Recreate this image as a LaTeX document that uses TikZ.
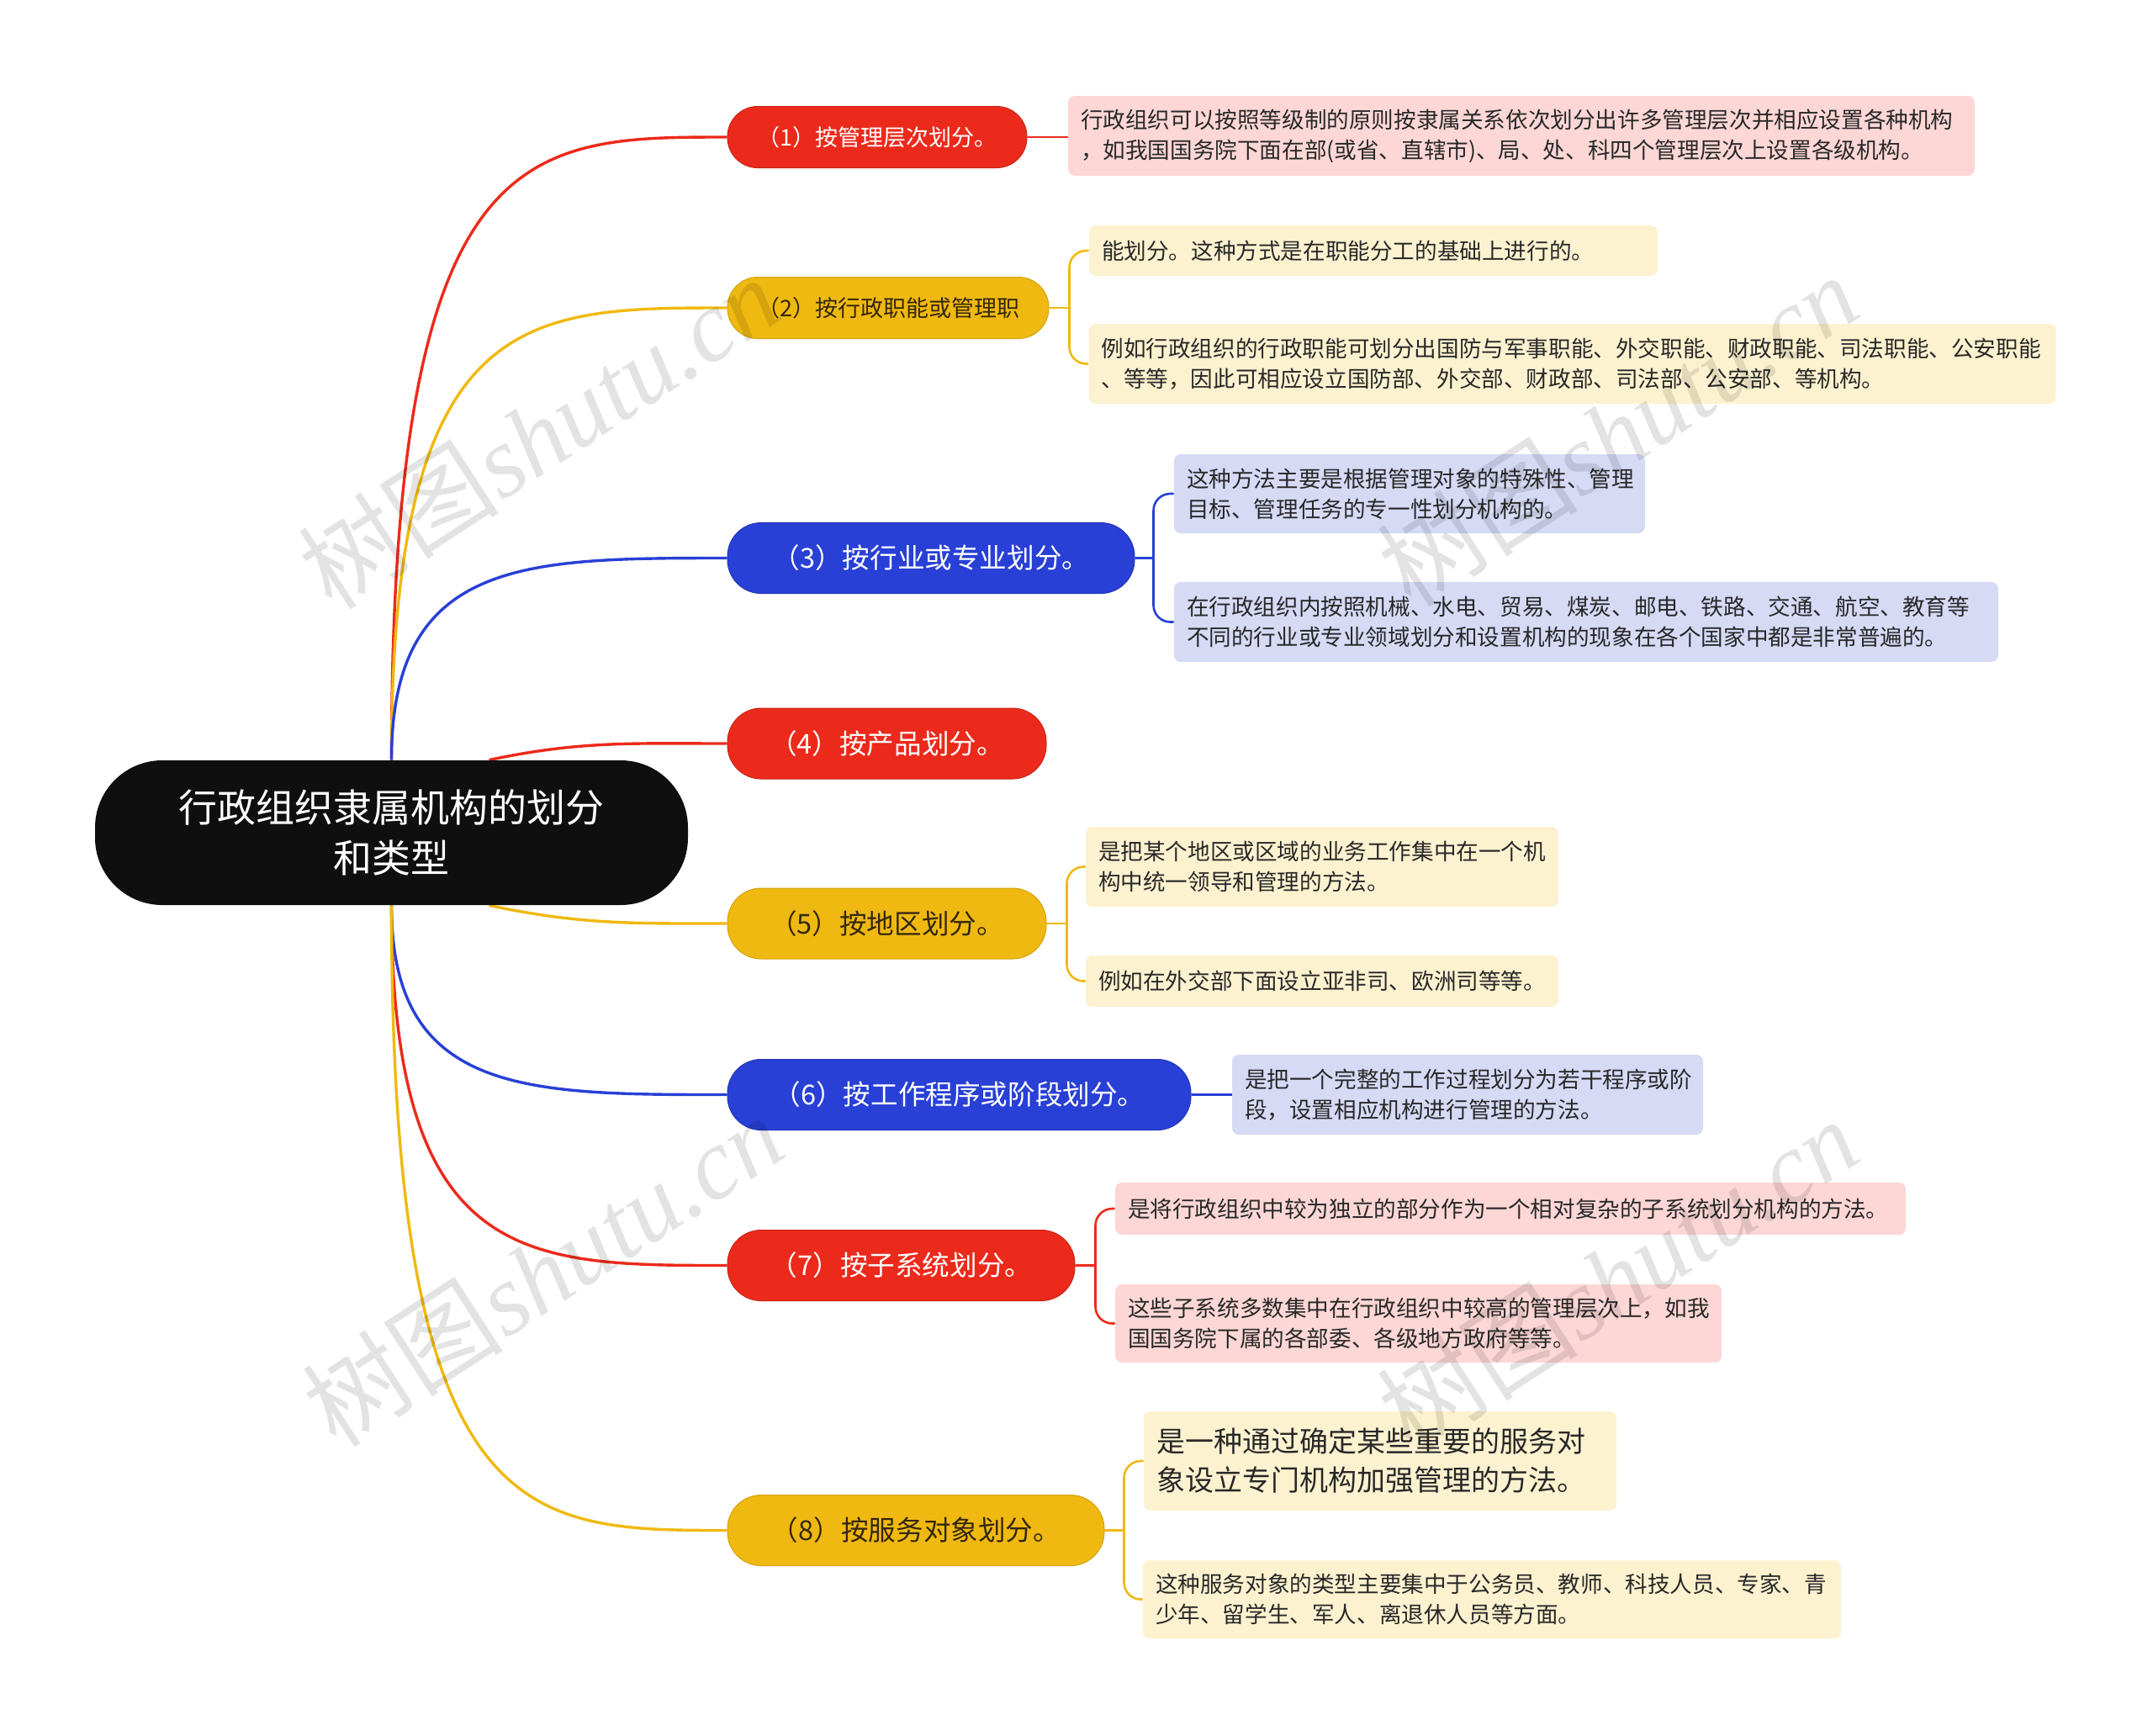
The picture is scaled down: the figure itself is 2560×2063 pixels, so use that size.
\documentclass[tikz,border=0pt]{standalone}
\usepackage{fontspec}
\setmainfont{Noto Sans CJK SC}
\newfontfamily\wmlatin{Liberation Serif}
\usetikzlibrary{calc}
\pgfdeclarelayer{paper}
\pgfdeclarelayer{bg}
\pgfsetlayers{paper,bg,main}
\definecolor{cred}{RGB}{236,42,27}
\definecolor{cyel}{RGB}{240,185,17}
\definecolor{cblue}{RGB}{40,64,214}
\definecolor{fpink}{RGB}{252,215,214}
\definecolor{fcream}{RGB}{253,242,208}
\definecolor{flav}{RGB}{214,218,245}
\definecolor{rootc}{RGB}{15,15,15}
\definecolor{ytext}{RGB}{52,40,12}
\definecolor{ltext}{RGB}{40,40,40}
\tikzset{
  rootnode/.style={fill=rootc, text=white, rounded corners=40pt, minimum width=352.5pt,
    minimum height=86pt, align=center, inner sep=0pt, font=\fontsize{23}{30}\selectfont},
  topic/.style={rounded corners=18pt, minimum height=36.5pt, inner sep=0pt, align=center,
    font=\fontsize{13.5}{16}\selectfont},
  topicbig/.style={topic, rounded corners=20pt, minimum height=42pt, font=\fontsize{16.3}{19}\selectfont},
  redt/.style={fill=cred, draw=cred!85!black, line width=0.5pt, text=white},
  yelt/.style={fill=cyel, draw=cyel!88!black, line width=0.5pt, text=ytext},
  bluet/.style={fill=cblue, draw=cblue!85!black, line width=0.5pt, text=white},
  leaf/.style={rounded corners=4pt, align=left, inner xsep=7.5pt, inner ysep=0pt, text=ltext,
    font=\fontsize{13.3}{18}\selectfont},
  pinkleaf/.style={leaf, fill=fpink},
  creamleaf/.style={leaf, fill=fcream},
  lavleaf/.style={leaf, fill=flav},
  link/.style={line width=1.7pt},
  sublink/.style={line width=1.3pt, rounded corners=10pt},
  wmtext/.style={rotate=33, text=black, text opacity=0.11, font=\fontsize{60}{60}\selectfont}
}
\begin{document}
\begin{tikzpicture}[x=0.5pt,y=-0.5pt]
\begin{pgfonlayer}{paper}
\fill[white] (0,0) rectangle (2560,2063);
\end{pgfonlayer}
\useasboundingbox (0,0) rectangle (2560,2063);

% root
\node[rootnode] (root) at (465.5,990) {行政组织隶属机构的划分\\和类型};

% level 1
\node[topic, redt, minimum width=178pt] (n1) at (1043,163) {（1）按管理层次划分。};
\node[topic, yelt, minimum width=191pt] (n2) at (1056,366) {（2）按行政职能或管理职};
\node[topicbig, bluet, minimum width=242pt] (n3) at (1107,663.5) {（3）按行业或专业划分。};
\node[topicbig, redt, minimum width=189.5pt] (n4) at (1054.5,884) {（4）按产品划分。};
\node[topicbig, yelt, minimum width=189.5pt] (n5) at (1054.5,1098) {（5）按地区划分。};
\node[topicbig, bluet, minimum width=275.5pt] (n6) at (1140.5,1301.5) {（6）按工作程序或阶段划分。};
\node[topicbig, redt, minimum width=206.5pt] (n7) at (1071.5,1504.5) {（7）按子系统划分。};
\node[topicbig, yelt, minimum width=224pt] (n8) at (1089,1819.5) {（8）按服务对象划分。};

% level 2
\node[pinkleaf, text width=524pt, minimum height=47.5pt] (l1a) at (1809,161.5)
  {行政组织可以按照等级制的原则按隶属关系依次划分出许多管理层次并相应设置各种机构\\，如我国国务院下面在部(或省、直辖市)、局、处、科四个管理层次上设置各级机构。};
\node[creamleaf, text width=323pt, minimum height=30pt] (l2a) at (1633,298)
  {能划分。这种方式是在职能分工的基础上进行的。};
\node[creamleaf, text width=560pt, minimum height=47.5pt] (l2b) at (1869.5,432.5)
  {例如行政组织的行政职能可划分出国防与军事职能、外交职能、财政职能、司法职能、公安职能\\、等等，因此可相应设立国防部、外交部、财政部、司法部、公安部、等机构。};
\node[lavleaf, text width=265pt, minimum height=47pt] (l3a) at (1676,587)
  {这种方法主要是根据管理对象的特殊性、管理\\目标、管理任务的专一性划分机构的。};
\node[lavleaf, text width=475pt, minimum height=47.5pt] (l3b) at (1886,739.5)
  {在行政组织内按照机械、水电、贸易、煤炭、邮电、铁路、交通、航空、教育等\\不同的行业或专业领域划分和设置机构的现象在各个国家中都是非常普遍的。};
\node[creamleaf, text width=266pt, minimum height=47.5pt] (l5a) at (1572,1030.5)
  {是把某个地区或区域的业务工作集中在一个机\\构中统一领导和管理的方法。};
\node[creamleaf, text width=266pt, minimum height=30.5pt] (l5b) at (1572,1166.5)
  {例如在外交部下面设立亚非司、欧洲司等等。};
\node[lavleaf, text width=265pt, minimum height=47.5pt] (l6a) at (1745,1301.5)
  {是把一个完整的工作过程划分为若干程序或阶\\段，设置相应机构进行管理的方法。};
\node[pinkleaf, text width=455pt, minimum height=31pt] (l7a) at (1796,1437)
  {是将行政组织中较为独立的部分作为一个相对复杂的子系统划分机构的方法。};
\node[pinkleaf, text width=345.5pt, minimum height=46.5pt] (l7b) at (1686.5,1573.5)
  {这些子系统多数集中在行政组织中较高的管理层次上，如我\\国国务院下属的各部委、各级地方政府等等。};
\node[creamleaf, text width=266pt, minimum height=59pt, font=\fontsize{17}{23}\selectfont] (l8a) at (1641,1737)
  {是一种通过确定某些重要的服务对\\象设立专门机构加强管理的方法。};
\node[creamleaf, text width=400pt, minimum height=46.5pt] (l8b) at (1774,1901.5)
  {这种服务对象的类型主要集中于公务员、教师、科技人员、专家、青\\少年、留学生、军人、离退休人员等方面。};

\begin{pgfonlayer}{bg}
% root connectors
\foreach \n/\c in {n1/cred, n2/cyel, n3/cblue}{
  \draw[link,\c] (root.north) .. controls (root.north |- \n.west) and ($(root.north |- \n.west)!0.4!(\n.west)$) .. (\n.west);
}
\foreach \n/\c in {n6/cblue, n7/cred, n8/cyel}{
  \draw[link,\c] (root.south) .. controls (root.south |- \n.west) and ($(root.south |- \n.west)!0.4!(\n.west)$) .. (\n.west);
}
\draw[link,cred] ([xshift=58pt]root.north) to[out=12,in=180] (n4.west);
\draw[link,cyel] ([xshift=58pt]root.south) to[out=-12,in=180] (n5.west);

% level-2 connectors
\draw[sublink,cred] (n1.east) -- (n1.east -| l1a.west);
\draw[sublink,cblue] (n6.east) -- (n6.east -| l6a.west);
\coordinate (b2) at ($(n2.east)+(12pt,0)$);
\coordinate (b3) at ($(n3.east)+(11pt,0)$);
\coordinate (b5) at ($(n5.east)+(12pt,0)$);
\coordinate (b7) at ($(n7.east)+(12pt,0)$);
\coordinate (b8) at ($(n8.east)+(11.5pt,0)$);
\draw[sublink,cyel] (n2.east) -- (b2);
\draw[sublink,cyel] (b2) |- (l2a.west);
\draw[sublink,cyel] (b2) |- (l2b.west);
\draw[sublink,cblue] (n3.east) -- (b3);
\draw[sublink,cblue] (b3) |- (l3a.west);
\draw[sublink,cblue] (b3) |- (l3b.west);
\draw[sublink,cyel] (n5.east) -- (b5);
\draw[sublink,cyel] (b5) |- (l5a.west);
\draw[sublink,cyel] (b5) |- (l5b.west);
\draw[sublink,cred] (n7.east) -- (b7);
\draw[sublink,cred] (b7) |- (l7a.west);
\draw[sublink,cred] (b7) |- (l7b.west);
\draw[sublink,cyel] (n8.east) -- (b8);
\draw[sublink,cyel] (b8) |- (l8a.west);
\draw[sublink,cyel] (b8) |- (l8b.west);
\end{pgfonlayer}

% watermarks
\node[wmtext] (w1) at (640,514) {树图{\wmlatin\itshape shutu.cn}};
\node[wmtext] (w2) at (1923,511) {树图{\wmlatin\itshape shutu.cn}};
\node[wmtext] (w3) at (645,1510) {树图{\wmlatin\itshape shutu.cn}};
\node[wmtext] (w4) at (1923,1515) {树图{\wmlatin\itshape shutu.cn}};
\end{tikzpicture}
\end{document}
